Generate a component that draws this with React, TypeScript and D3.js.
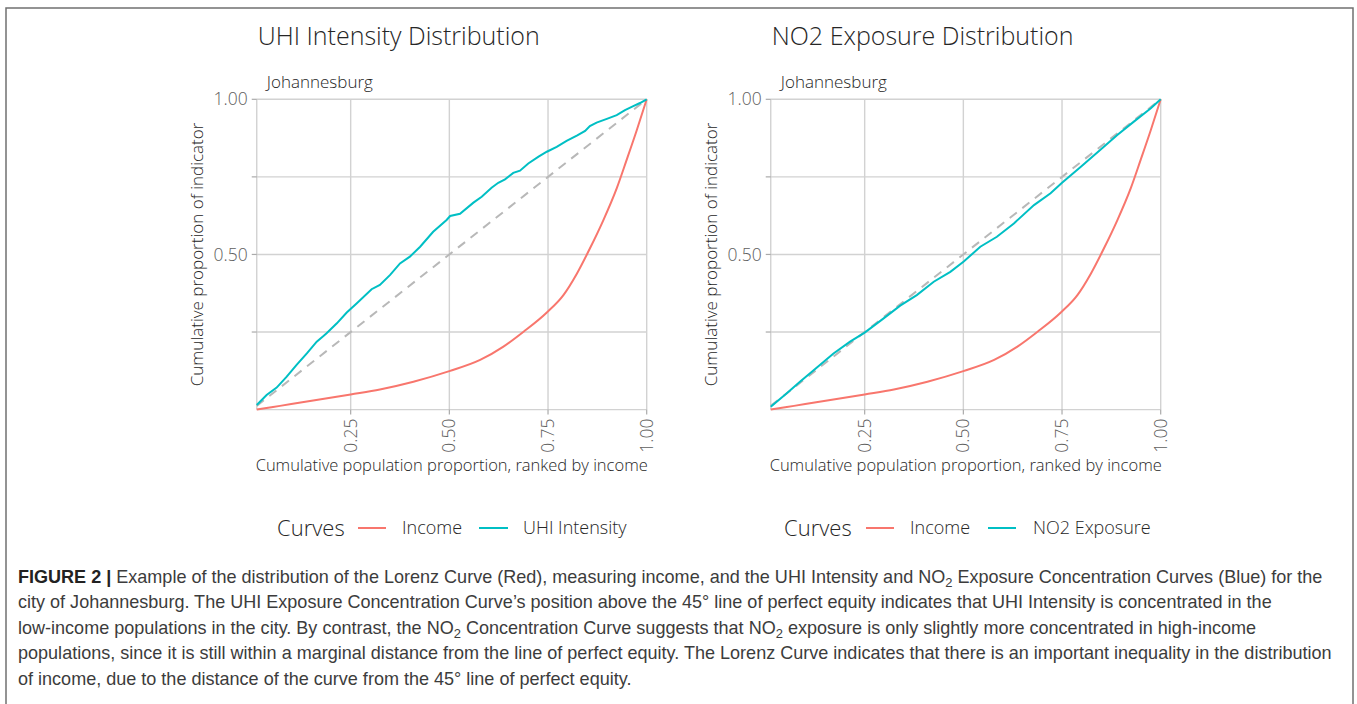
import React, { useLayoutEffect, useRef, useState } from "react";
import * as d3 from "d3";

// ---- data ----
const incomeX = [0.012, 0.071, 0.155, 0.25, 0.324, 0.409, 0.5, 0.578, 0.637, 0.688, 0.747, 0.789, 0.823, 0.856, 0.89, 0.924, 0.949, 0.975, 1.0];
const incomeY = [0, 0.012, 0.029, 0.049, 0.065, 0.09, 0.124, 0.16, 0.203, 0.251, 0.313, 0.369, 0.438, 0.519, 0.61, 0.713, 0.804, 0.901, 1.0];

const uhiX = [0.012, 0.037, 0.0625, 0.088, 0.113, 0.139, 0.164, 0.181, 0.189, 0.215, 0.24, 0.265, 0.303, 0.324, 0.35, 0.375, 0.4, 0.426, 0.459, 0.493, 0.502, 0.527, 0.561, 0.582, 0.607, 0.624, 0.641, 0.662, 0.679, 0.7, 0.726, 0.747, 0.772, 0.797, 0.823, 0.844, 0.856, 0.873, 0.899, 0.924, 0.945, 0.966, 0.983, 1.0];
const uhiY = [0.015, 0.047, 0.071, 0.106, 0.144, 0.181, 0.219, 0.237, 0.246, 0.278, 0.313, 0.342, 0.388, 0.402, 0.434, 0.471, 0.493, 0.525, 0.573, 0.611, 0.624, 0.631, 0.667, 0.686, 0.715, 0.731, 0.742, 0.763, 0.77, 0.793, 0.815, 0.831, 0.847, 0.866, 0.883, 0.898, 0.914, 0.925, 0.937, 0.949, 0.965, 0.978, 0.988, 1.0];

const no2X = [0.012, 0.052, 0.086, 0.129, 0.171, 0.213, 0.25, 0.298, 0.34, 0.382, 0.425, 0.467, 0.501, 0.543, 0.585, 0.628, 0.679, 0.721, 0.75, 0.797, 0.848, 0.89, 0.932, 0.975, 1.0];
const no2Y = [0.009, 0.052, 0.09, 0.136, 0.181, 0.219, 0.248, 0.294, 0.335, 0.369, 0.412, 0.444, 0.477, 0.525, 0.557, 0.6, 0.659, 0.697, 0.731, 0.782, 0.838, 0.885, 0.928, 0.971, 1.0];

const xTicks = [0.25, 0.5, 0.75, 1];
const xTickLabels = ["0.25", "0.50", "0.75", "1.00"];
const yTicks = [0.25, 0.5, 0.75, 1];
const yTickLabels = ["", "0.50", "", "1.00"];
const xMin = 0.012;

const panelTitles = ["UHI Intensity Distribution", "NO2 Exposure Distribution"];
const cityName = "Johannesburg";
const legendTitle = "Curves";
const incomeLabel = "Income";
const seriesLabels = ["UHI Intensity", "NO2 Exposure"];
const xAxisTitle = "Cumulative population proportion, ranked by income";
const yAxisTitle = "Cumulative proportion of indicator";

const RED = "#F8766D";
const TEAL = "#00BFC4";
const GRID = "#d2d2d2";
const FONT = "'Open Sans', sans-serif";

type PanelProps = {
  x0: number;
  title: string;
  xs: number[];
  ys: number[];
  label: string;
  legend: { curves: number; red: [number, number]; income: number; teal: [number, number]; lab: number };
};

function Panel({ x0, title, xs, ys, label, legend }: PanelProps) {
  const x = d3.scaleLinear().domain([0, 1]).range([x0, x0 + 394.7]);
  const y = d3.scaleLinear().domain([0, 1]).range([409.6, 99.3]);
  const left = x(xMin);
  const right = x(1);
  const top = y(1);
  const bottom = y(0);
  const redPath = d3
    .line<[number, number]>()
    .x((d) => x(d[0]))
    .y((d) => y(d[1]))
    .curve(d3.curveMonotoneX)(incomeX.map((v, i) => [v, incomeY[i]]) as [number, number][]);
  const bluePath = d3
    .line<[number, number]>()
    .x((d) => x(d[0]))
    .y((d) => y(d[1]))
    .curve(d3.curveLinear)(xs.map((v, i) => [v, ys[i]]) as [number, number][]);
  const cy = (top + bottom) / 2;
  const cx = (left + right) / 2;
  const ink = "#262626";
  return (
    <g fontFamily={FONT}>
      <text x={left + 1} y={45} fontSize={25} fill={ink} fontWeight={300}>
        {title}
      </text>
      <text x={left + 10} y={88} fontSize={17} fill={ink} fontWeight={300}>
        {cityName}
      </text>
      {/* grid */}
      {yTicks.map((t) => (
        <line key={"gy" + t} x1={left} x2={right} y1={y(t)} y2={y(t)} stroke={GRID} strokeWidth={1.4} />
      ))}
      {xTicks.map((t) => (
        <line key={"gx" + t} x1={x(t)} x2={x(t)} y1={top} y2={bottom} stroke={GRID} strokeWidth={1.4} />
      ))}
      <line x1={left} x2={left} y1={top} y2={bottom} stroke={GRID} strokeWidth={1.4} />
      <line x1={left} x2={right} y1={bottom} y2={bottom} stroke={GRID} strokeWidth={1.4} />
      {/* ticks */}
      {yTicks.map((t) => (
        <line key={"ty" + t} x1={left - 5} x2={left} y1={y(t)} y2={y(t)} stroke="#aaa" strokeWidth={1.2} />
      ))}
      {xTicks.map((t) => (
        <line key={"tx" + t} x1={x(t)} x2={x(t)} y1={bottom} y2={bottom + 5} stroke="#aaa" strokeWidth={1.2} />
      ))}
      {yTicks.map((t, i) => (
        <text key={"ly" + t} x={left - 9} y={y(t)} dy="0.35em" textAnchor="end" fontSize={17.5} fill="#5e5e5e" fontWeight={300}>
          {yTickLabels[i]}
        </text>
      ))}
      {xTicks.map((t, i) => (
        <text
          key={"lx" + t}
          transform={`translate(${x(t)},${bottom + 9}) rotate(-90)`}
          textAnchor="end"
          dy="0.35em"
          fontSize={17.5}
          fill="#5e5e5e"
          fontWeight={300}
        >
          {xTickLabels[i]}
        </text>
      ))}
      <text x={cx} y={471} textAnchor="middle" fontSize={16.5} fill={ink} fontWeight={300}>
        {xAxisTitle}
      </text>
      <text transform={`translate(${left - 54},${cy}) rotate(-90)`} textAnchor="middle" fontSize={17} fill={ink} fontWeight={300}>
        {yAxisTitle}
      </text>
      {/* diagonal */}
      <line x1={x(xMin)} y1={y(xMin)} x2={x(1)} y2={y(1)} stroke="#b8b8b8" strokeWidth={2} strokeDasharray="9,7" />
      <path d={redPath || ""} fill="none" stroke={RED} strokeWidth={2} />
      <path d={bluePath || ""} fill="none" stroke={TEAL} strokeWidth={2} />
      {/* legend */}
      <text x={legend.curves} y={528} dy="0.35em" fontSize={22} fill={ink} fontWeight={300}>
        {legendTitle}
      </text>
      <line x1={legend.red[0]} x2={legend.red[1]} y1={528} y2={528} stroke={RED} strokeWidth={2} />
      <text x={legend.income} y={528} dy="0.35em" fontSize={18} fill={ink} fontWeight={300}>
        {incomeLabel}
      </text>
      <line x1={legend.teal[0]} x2={legend.teal[1]} y1={528} y2={528} stroke={TEAL} strokeWidth={2} />
      <text x={legend.lab} y={528} dy="0.35em" fontSize={18} fill={ink} fontWeight={300}>
        {label}
      </text>
    </g>
  );
}

function Caption() {
  const ref = useRef<SVGTextElement>(null);
  const [sx, setSx] = useState(1);
  useLayoutEffect(() => {
    const measure = () => {
      if (ref.current) {
        const w = ref.current.getComputedTextLength();
        if (w > 0) setSx(1313 / w);
      }
    };
    measure();
    if ((document as any).fonts) (document as any).fonts.ready.then(measure);
  }, []);
  const fs = 17.5;
  return (
    <g transform={`translate(18,0) scale(${sx},1)`} fontFamily="'Liberation Sans', Arial, sans-serif" fontSize={fs} fill="#3c3c3c">
      <text x={0} y={583}>
        <tspan fontWeight="bold" fill="#222">FIGURE 2 | </tspan>
        <tspan>Example of the distribution of the Lorenz Curve (Red), measuring income, and the UHI Intensity and NO</tspan>
        <tspan fontSize="0.72em" dy={4}>2</tspan>
        <tspan dy={-4}> Exposure Concentration Curves (Blue) for the</tspan>
      </text>
      <text x={0} y={608.5}>
        city of Johannesburg. The UHI Exposure Concentration Curve’s position above the 45° line of perfect equity indicates that UHI Intensity is concentrated in the
      </text>
      <text x={0} y={634}>
        <tspan>low-income populations in the city. By contrast, the NO</tspan>
        <tspan fontSize="0.72em" dy={4}>2</tspan>
        <tspan dy={-4}> Concentration Curve suggests that NO</tspan>
        <tspan fontSize="0.72em" dy={4}>2</tspan>
        <tspan dy={-4}> exposure is only slightly more concentrated in high-income</tspan>
      </text>
      <text ref={ref} x={0} y={659.5}>
        populations, since it is still within a marginal distance from the line of perfect equity. The Lorenz Curve indicates that there is an important inequality in the distribution
      </text>
      <text x={0} y={685}>
        of income, due to the distance of the curve from the 45° line of perfect equity.
      </text>
    </g>
  );
}

export default function App() {
  return (
    <svg
      width={1357}
      height={704}
      style={{ position: "absolute", left: 0, top: 0, display: "block", background: "#fff" }}
    >
      <rect x={0} y={0} width={1357} height={704} fill="#fff" />
      <path d="M6,704 V8 H1353 V704" fill="none" stroke="#707070" strokeWidth={1.5} />
      <Panel
        x0={252}
        title={panelTitles[0]}
        xs={uhiX}
        ys={uhiY}
        label={seriesLabels[0]}
        legend={{ curves: 277, red: [358, 386], income: 402, teal: [479, 508], lab: 523 }}
      />
      <Panel
        x0={766}
        title={panelTitles[1]}
        xs={no2X}
        ys={no2Y}
        label={seriesLabels[1]}
        legend={{ curves: 784, red: [866, 894], income: 910, teal: [988, 1016], lab: 1033 }}
      />
      <Caption />
    </svg>
  );
}
